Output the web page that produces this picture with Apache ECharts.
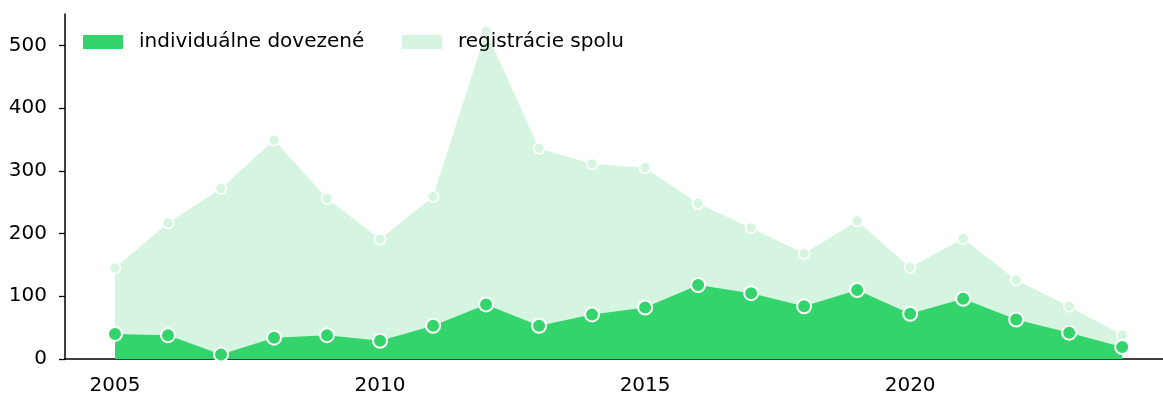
<!DOCTYPE html>
<html>
<head>
<meta charset="utf-8">
<script src="https://cdn.jsdelivr.net/npm/echarts@6/dist/echarts.min.js"></script>
<style>
  html, body { margin: 0; padding: 0; background: #fff; }
  #chart { width: 1163px; height: 394px; }
</style>
</head>
<body>
<div id="chart"></div>
<script>
// Years on the horizontal axis
const years = [2005, 2006, 2007, 2008, 2009, 2010, 2011, 2012, 2013, 2014,
               2015, 2016, 2017, 2018, 2019, 2020, 2021, 2022, 2023, 2024];
// Individually imported vehicles
const individualne = [40, 38, 7, 34, 38, 29, 53, 87, 53, 71,
                      82, 118, 105, 84, 110, 72, 96, 63, 42, 19];
// Total registrations
const spolu = [145, 217, 272, 349, 256, 191, 259, 522, 336, 311,
               305, 248, 209, 168, 220, 146, 192, 126, 84, 38];
// Tick labels
const xTicks = [2005, 2010, 2015, 2020];
const yTicks = [0, 100, 200, 300, 400, 500];

const seriesNames = ['individuálne dovezené', 'registrácie spolu'];
const darkGreen = '#33d46b';
const lightGreen = '#d6f5e1';
const font = 'DejaVu Sans';
const fontSize = 20;

const pairs = vals => years.map((y, i) => [y, vals[i]]);

const chart = echarts.init(document.getElementById('chart'), null, { renderer: 'canvas' });

const legendBase = {
  top: 32,
  padding: 0,
  icon: 'rect',
  itemWidth: 40,
  itemHeight: 14,
  itemGap: 0,
  textStyle: { fontFamily: font, fontSize: fontSize, color: '#000', padding: [0, 0, 0, 11] },
  selectedMode: false
};

chart.setOption({
  animation: false,
  backgroundColor: '#fff',
  grid: { left: 65, right: 0, top: 14, bottom: 35, containLabel: false, outerBoundsMode: 'none' },
  legend: [
    Object.assign({}, legendBase, {
      left: 83,
      data: [{ name: seriesNames[0], itemStyle: { color: darkGreen, borderWidth: 0 } }]
    }),
    Object.assign({}, legendBase, {
      left: 402,
      data: [{ name: seriesNames[1], itemStyle: { color: lightGreen, borderWidth: 0 } }]
    })
  ],
  xAxis: {
    type: 'value',
    min: 2004.057,
    max: 2024.77,
    axisLine: { show: true, onZero: false, lineStyle: { color: '#000', width: 1.5 } },
    axisTick: { show: false },
    splitLine: { show: false },
    axisLabel: {
      customValues: xTicks,
      fontFamily: font, fontSize: fontSize, color: '#000', margin: 17,
      formatter: v => String(v)
    }
  },
  yAxis: {
    type: 'value',
    min: 0,
    max: 550,
    axisLine: { show: true, lineStyle: { color: '#000', width: 1.5 } },
    axisTick: { show: true, customValues: yTicks, length: 6, lineStyle: { color: '#000', width: 1.3 } },
    splitLine: { show: false },
    axisLabel: {
      customValues: yTicks,
      fontFamily: font, fontSize: fontSize, color: '#000', margin: 18
    }
  },
  series: [
    {
      name: seriesNames[1],
      type: 'line',
      data: pairs(spolu),
      z: 2,
      symbol: 'circle',
      symbolSize: 11,
      showAllSymbol: true,
      lineStyle: { width: 0, color: lightGreen },
      areaStyle: { color: lightGreen, opacity: 1 },
      itemStyle: { color: lightGreen, borderColor: '#fff', borderWidth: 1.6 },
      emphasis: { disabled: true }
    },
    {
      name: seriesNames[0],
      type: 'line',
      data: pairs(individualne),
      z: 3,
      symbol: 'circle',
      symbolSize: 14,
      showAllSymbol: true,
      lineStyle: { width: 0, color: darkGreen },
      areaStyle: { color: darkGreen, opacity: 1 },
      itemStyle: { color: darkGreen, borderColor: '#fff', borderWidth: 2 },
      emphasis: { disabled: true }
    }
  ]
});
</script>
</body>
</html>
